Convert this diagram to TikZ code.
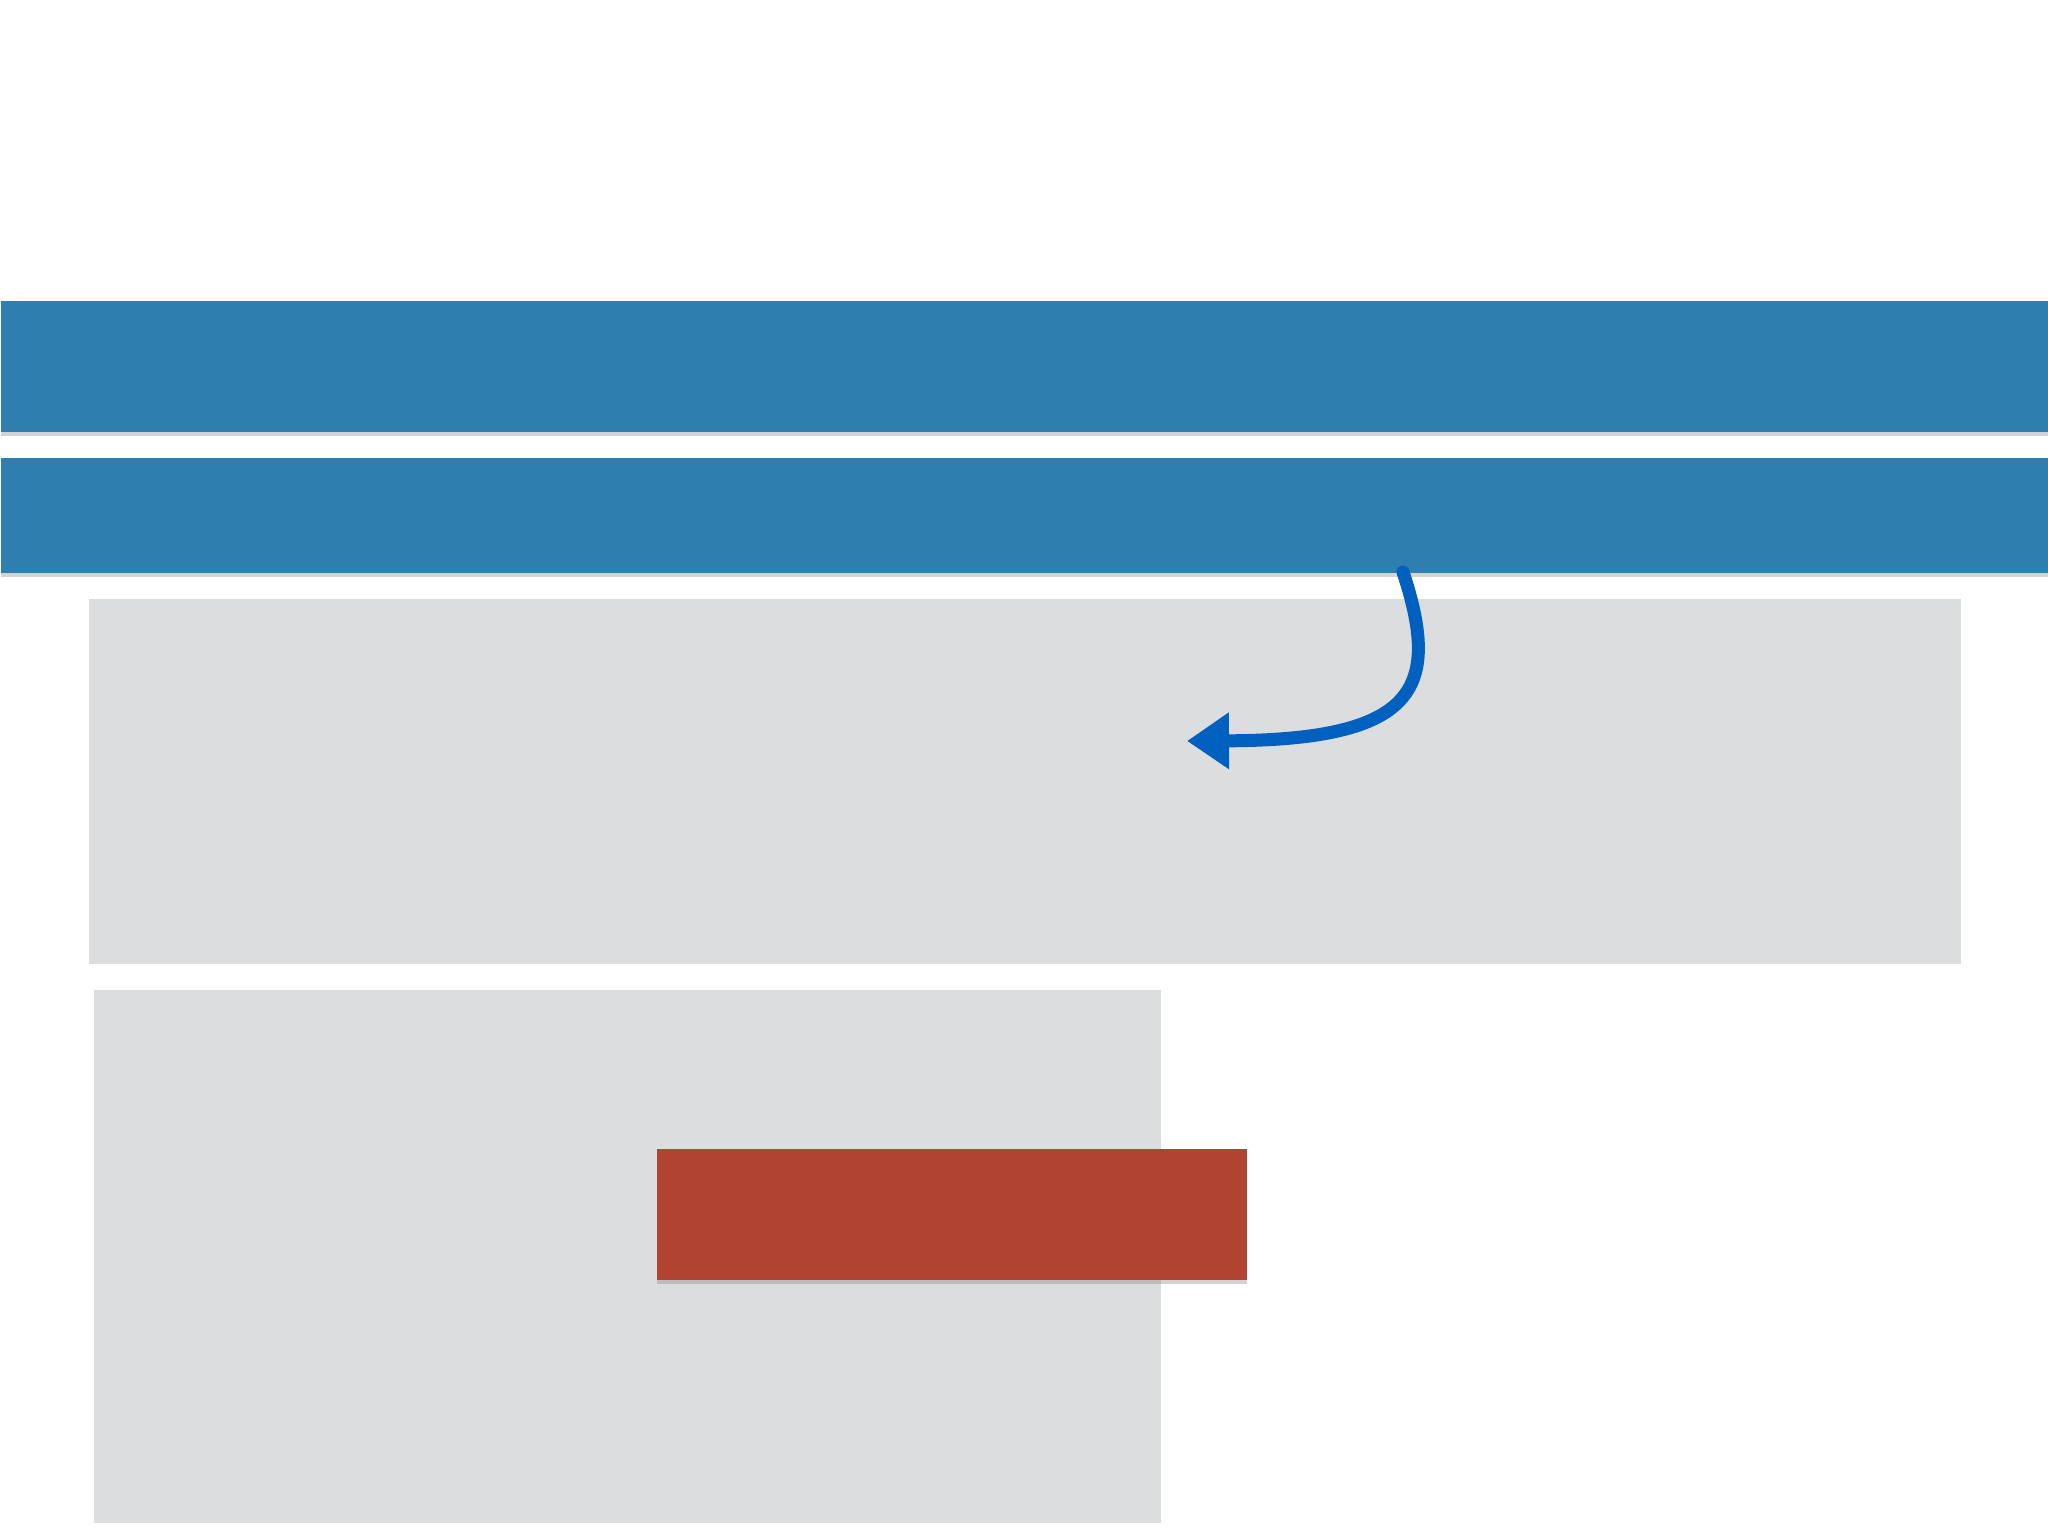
\documentclass[tikz,border=0pt]{standalone}
\usetikzlibrary{arrows.meta,shadows,positioning}
\definecolor{bandblue}{RGB}{46,127,176}
\definecolor{panelgrey}{RGB}{220,221,223}
\definecolor{tabred}{RGB}{176,68,49}
\definecolor{crayon}{RGB}{0,96,192}
\tikzset{
    band/.style =   {rectangle,
                    fill=bandblue,
                    draw=none,
                    anchor=north west,
                    inner sep=0pt,
                    minimum width=20.48cm,
                    drop shadow={shadow xshift=0pt,shadow yshift=-0.04cm,opacity=.35}},
    panel/.style =  {rectangle,
                    fill=panelgrey,
                    draw=none,
                    anchor=north west,
                    inner sep=0pt},
    tab/.style =    {rectangle,
                    fill=tabred,
                    draw=none,
                    anchor=north west,
                    inner sep=0pt,
                    drop shadow={shadow xshift=0pt,shadow yshift=-0.04cm,opacity=.35}},
    pointer/.style ={draw=crayon,
                    line width=0.13cm,
                    line cap=round,
                    -{Triangle[length=0.42cm,width=0.54cm]}},
    -}

\begin{document}
\begin{tikzpicture}[x=0.01cm,y=-0.01cm]
                \useasboundingbox (0,0) rectangle (2048,1536);
                \node[panel,minimum width=18.71cm,minimum height=3.65cm] (P) at (88,598)   {};
                \node[panel,minimum width=10.67cm,minimum height=5.33cm] (Q) at (93,989)   {};
                \node[band,minimum height=1.31cm]   (A) at (0,300)    {};
                \node[band,minimum height=1.15cm]   (B) at (0,457)    {};
                \node[tab,minimum width=5.90cm,minimum height=1.31cm]    (R) at (656,1148) {};
                % crayon arrow out of the lower band
                \coordinate (from) at (1403,572);
                \coordinate (tip)  at (1187,741);
                \draw [pointer] (from) .. controls (1442,690) and (1415,740) .. (tip);
        \end{tikzpicture}
\end{document}
